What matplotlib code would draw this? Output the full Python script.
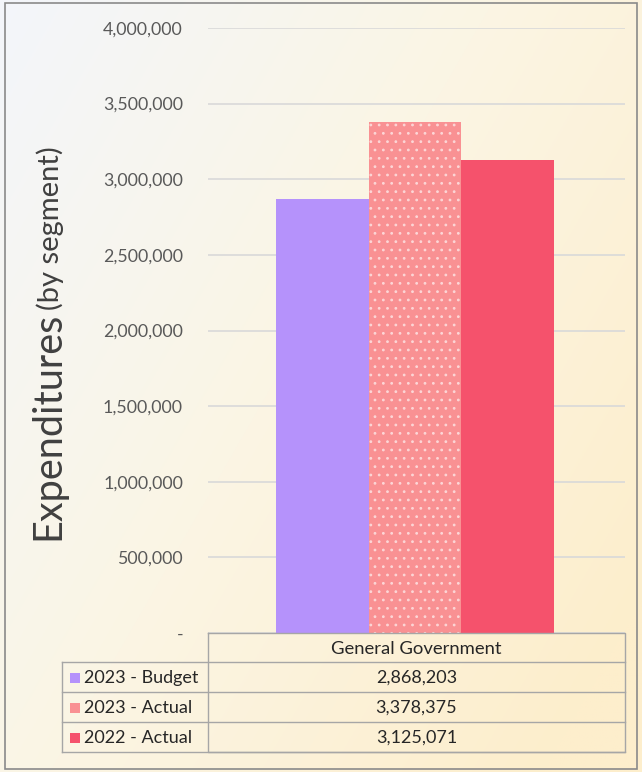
import numpy as np
import matplotlib
matplotlib.use("Agg")
import matplotlib.pyplot as plt
from matplotlib.patches import Rectangle
from matplotlib.ticker import FuncFormatter

plt.rcParams['font.family'] = ['Lato', 'DejaVu Sans']
plt.rcParams['hatch.linewidth'] = 0.8

# data
category = "General Government"
series = ["2023 - Budget", "2023 - Actual", "2022 - Actual"]
values = [2868203, 3378375, 3125071]
colors = ["#b592fb", "#f99193", "#f5526c"]
hatches = [None, "..", None]
yticks = [0, 500000, 1000000, 1500000, 2000000, 2500000, 3000000, 3500000, 4000000]

W, H = 642, 772
fig = plt.figure(figsize=(W / 100, H / 100), dpi=100)

# background gradient
bg = fig.add_axes([0, 0, 1, 1], zorder=-10)
xx, yy = np.meshgrid(np.linspace(0, 1, 300), np.linspace(0, 1, 300))
t = np.clip(0.65 * xx + 0.45 * yy, 0, 1)
c0 = np.array([0xf3, 0xf6, 0xfb]) / 255
c1 = np.array([0xfb, 0xf5, 0xe4]) / 255
c2 = np.array([0xfd, 0xee, 0xcc]) / 255
tt = t[..., None]
img = np.where(tt < 0.5, c0 + (c1 - c0) * (tt / 0.5), c1 + (c2 - c1) * ((tt - 0.5) / 0.5))
bg.imshow(img, extent=[0, W, H, 0], aspect='auto')
bg.set_xlim(0, W)
bg.set_ylim(H, 0)
bg.axis('off')
# outer frame
bg.add_patch(Rectangle((5, 3), 632, 766, fill=False, edgecolor='#8a8a8a', linewidth=1.2))

# main plot area (pixel box)
px_l, px_r, px_top, px_bot = 208, 625, 28, 633
ax = fig.add_axes([px_l / W, 1 - px_bot / H, (px_r - px_l) / W, (px_bot - px_top) / H])
ax.patch.set_alpha(0)
ax.set_ylim(0, 4000000)
ax.set_xlim(-0.5, 0.5)
ax.set_yticks(yticks)
ax.yaxis.set_major_formatter(FuncFormatter(lambda v, p: "-" if v == 0 else f"{int(v):,}"))
ax.tick_params(axis='y', length=0, pad=18, labelsize=12.8, labelcolor='#595959')
ax.tick_params(axis='x', length=0, labelbottom=False)
ax.grid(axis='y', color='#d9d9d9', linewidth=1.2)
ax.set_axisbelow(True)
for s in ax.spines.values():
    s.set_visible(False)

bw = 0.222
for i, (v, c, h) in enumerate(zip(values, colors, hatches)):
    x = (i - 1) * bw - 0.0035
    ax.bar(x, v, width=bw, color=c, hatch=h, edgecolor='#fcd6d6' if h else c,
           linewidth=0, zorder=3)

# rotated axis title with two type sizes sharing one baseline
lab = fig.add_axes([0, 0, 1, 1], zorder=4)
lab.set_xlim(0, W)
lab.set_ylim(H, 0)
lab.axis('off')
lab.patch.set_alpha(0)
lab.text(59, 540, "Expenditures", rotation=90, rotation_mode='anchor', ha='left',
         va='baseline', fontsize=28.5, color='#404040')
lab.text(59, 310, "(by segment)", rotation=90, rotation_mode='anchor', ha='left',
         va='baseline', fontsize=21, color='#404040')

# data table below the plot
tb = lab
lc = '#a6a6a6'
lw = 1.0
col_l, col_m, col_r = 62, 208, 625
row_y = [633, 662, 692, 722, 752]
tb.plot([col_m, col_r, col_r, col_m, col_m], [row_y[0], row_y[0], row_y[-1], row_y[-1], row_y[0]],
        color=lc, lw=lw)
for y in row_y[1:]:
    tb.plot([col_l, col_r], [y, y], color=lc, lw=lw)
tb.plot([col_l, col_l], [row_y[1], row_y[-1]], color=lc, lw=lw)
tb.text((col_m + col_r) / 2, (row_y[0] + row_y[1]) / 2 + 1, category, ha='center', va='center',
        fontsize=13.3, color='#262626')
for i, (name, v, c) in enumerate(zip(series, values, colors)):
    yc = (row_y[i + 1] + row_y[i + 2]) / 2 + 1
    tb.add_patch(Rectangle((70, yc - 5), 10, 10, facecolor=c, edgecolor='none'))
    tb.text(84, yc, name, ha='left', va='center', fontsize=13, color='#262626')
    tb.text((col_m + col_r) / 2, yc, f"{v:,}", ha='center', va='center', fontsize=13,
            color='#262626')

fig.savefig("out.png", dpi=100)
